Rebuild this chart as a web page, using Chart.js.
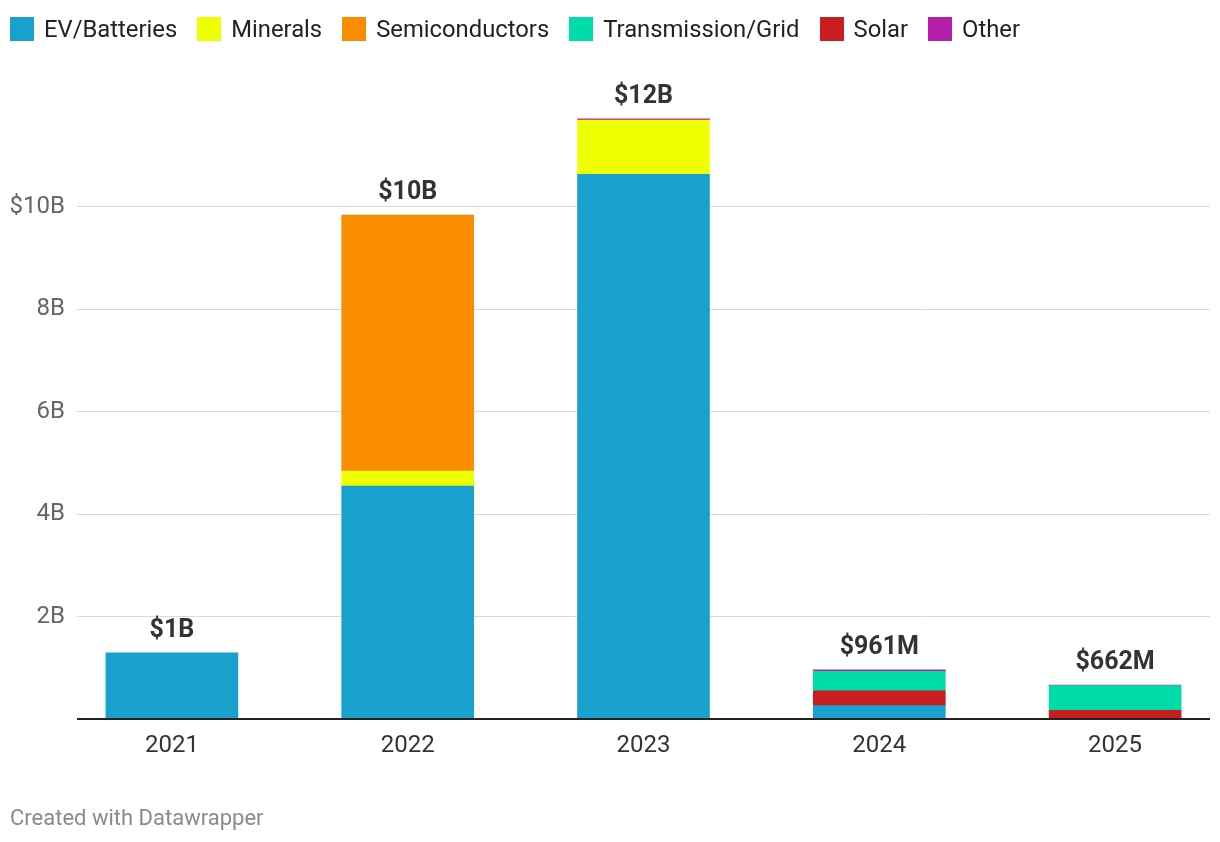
<!DOCTYPE html>
<html>
<head>
<meta charset="utf-8">
<script src="https://cdn.jsdelivr.net/npm/chart.js@4"></script>
<style>
  html, body { margin: 0; padding: 0; background: #fff; }
  #wrap { position: relative; width: 1220px; height: 842px; font-family: Roboto, "Noto Sans", sans-serif; }
  #legend { position: absolute; left: 10px; top: 15px; display: flex; align-items: center; font-size: 23.8px; color: #222; }
  .item { display: flex; align-items: center; margin-right: 20px; }
  .box { width: 24px; height: 24px; margin-right: 10px; }
  #credit { position: absolute; left: 10px; top: 805px; font-size: 22px; color: #8a8a8a; }
  canvas { position: absolute; left: 0; top: 0; }
</style>
</head>
<body>
<div id="wrap">
  <canvas id="c" width="1220" height="842"></canvas>
  <div id="legend"></div>
  <div id="credit">Created with Datawrapper</div>
</div>
<script>
const categories = ["2021", "2022", "2023", "2024", "2025"];
const legendNames = ["EV/Batteries", "Minerals", "Semiconductors", "Transmission/Grid", "Solar", "Other"];
const legendColors = ["#19a1cd", "#eeff00", "#fa8c00", "#00dca7", "#c91e1f", "#b41ea9"];
const evBatteries  = [1.29, 4.55, 10.64, 0.26, 0.0];
const minerals     = [0.0, 0.29, 1.06, 0.0, 0.0];
const semis        = [0.0, 5.00, 0.0, 0.0, 0.0];
const transmission = [0.0, 0.0, 0.0, 0.38, 0.485];
const solar        = [0.0, 0.0, 0.0, 0.29, 0.17];
const other        = [0.0, 0.0, 0.02, 0.031, 0.007];
const totalLabels  = ["$1B", "$10B", "$12B", "$961M", "$662M"];
const yTicks = [0, 2, 4, 6, 8, 10];

// stacking order (bottom to top)
const stackNames  = ["EV/Batteries", "Minerals", "Semiconductors", "Solar", "Transmission/Grid", "Other"];
const stackData   = [evBatteries, minerals, semis, solar, transmission, other];
const stackColors = ["#19a1cd", "#eeff00", "#fa8c00", "#c91e1f", "#00dca7", "#b41ea9"];

const X_MIN = -0.4025, X_MAX = 4.4025;

const legend = document.getElementById('legend');
legendNames.forEach((n, i) => {
  const it = document.createElement('div');
  it.className = 'item';
  it.innerHTML = '<div class="box" style="background:' + legendColors[i] + '"></div><span>' + n + '</span>';
  legend.appendChild(it);
});

const datasets = stackNames.map((n, i) => ({
  label: n,
  data: stackData[i].map((v, j) => ({ x: j, y: v === 0 ? null : v })),
  backgroundColor: stackColors[i],
  borderWidth: 0,
  barThickness: 132,
  grouped: false
}));

const totalsPlugin = {
  id: 'totals',
  afterDatasetsDraw(chart) {
    const ctx = chart.ctx;
    const xs = chart.scales.x, ys = chart.scales.y;
    ctx.save();
    ctx.strokeStyle = '#222';
    ctx.lineWidth = 2;
    ctx.beginPath();
    const y0 = ys.getPixelForValue(0);
    ctx.moveTo(chart.chartArea.left, y0);
    ctx.lineTo(chart.chartArea.right, y0);
    ctx.stroke();
    ctx.font = 'bold 25px Roboto';
    ctx.fillStyle = '#333';
    ctx.textAlign = 'center';
    ctx.textBaseline = 'bottom';
    categories.forEach((c, j) => {
      let tot = 0;
      stackData.forEach(s => tot += s[j]);
      const px = xs.getPixelForValue(j);
      const py = ys.getPixelForValue(tot);
      ctx.fillText(totalLabels[j], px, py - 10);
    });
    ctx.restore();
  }
};

new Chart(document.getElementById('c'), {
  type: 'bar',
  data: { datasets },
  options: {
    responsive: false,
    animation: false,
    layout: { padding: { top: 79, right: 10, left: 0, bottom: 73 } },
    plugins: { legend: { display: false }, tooltip: { enabled: false } },
    scales: {
      x: {
        type: 'linear',
        offset: false,
        min: X_MIN,
        max: X_MAX,
        afterDataLimits(scale) { scale.min = X_MIN; scale.max = X_MAX; },
        afterBuildTicks(scale) {
          scale.min = X_MIN; scale.max = X_MAX;
          scale.ticks = categories.map((c, i) => ({ value: i }));
        },
        afterFit(scale) { scale.height = 50; },
        grid: { display: false, drawTicks: false, offset: false },
        border: { display: false },
        ticks: {
          padding: 13,
          color: '#333',
          font: { family: 'Roboto', size: 24 },
          callback: (v) => categories[v] !== undefined ? categories[v] : ''
        }
      },
      y: {
        stacked: true,
        min: 0,
        max: 12.5,
        afterBuildTicks(scale) { scale.ticks = yTicks.map(v => ({ value: v })); },
        afterFit(scale) { scale.width = 77; },
        grid: {
          color: (ctx) => ctx.tick && ctx.tick.value === 0 ? 'rgba(0,0,0,0)' : '#d9d9d9',
          lineWidth: 1,
          drawTicks: false
        },
        border: { display: false },
        ticks: {
          padding: 12,
          color: '#666',
          font: { family: 'Roboto', size: 24 },
          callback: (v) => v === 0 ? '' : (v === 10 ? '$10B' : v + 'B')
        }
      }
    }
  },
  plugins: [totalsPlugin]
});
</script>
</body>
</html>
